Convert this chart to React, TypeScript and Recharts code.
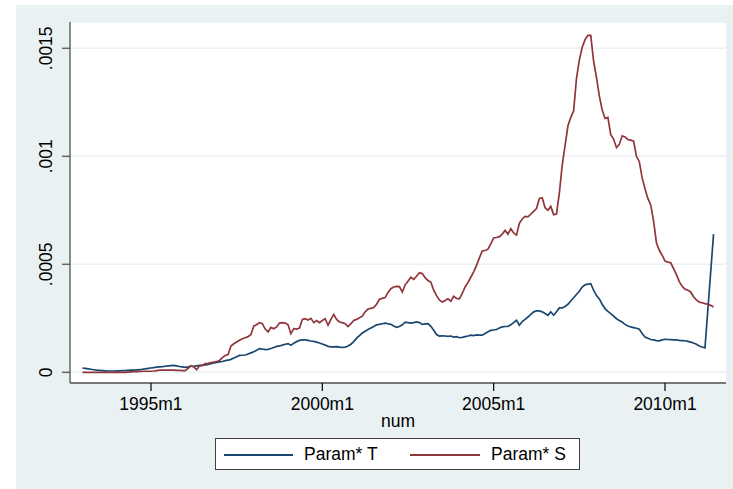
import React from 'react'
import { LineChart, Line, XAxis, YAxis, CartesianGrid } from 'recharts'

// ── data (monthly, Stata %tm: 396 = 1993m1) ─────────────────────
const START_MONTH = 396

// values below are in units of 1e-4
const paramT: (number | null)[] = [
  // 1993
  0.20, 0.18, 0.16, 0.14, 0.12, 0.10, 0.09, 0.08, 0.07, 0.06, 0.06, 0.06,
  // 1994
  0.07, 0.07, 0.08, 0.08, 0.09, 0.10, 0.10, 0.11, 0.12, 0.14, 0.16, 0.18,
  // 1995
  0.20, 0.22, 0.24, 0.25, 0.26, 0.28, 0.30, 0.31, 0.32, 0.30, 0.27, 0.25,
  // 1996
  0.23, 0.25, 0.28, 0.28, 0.30, 0.32, 0.32, 0.34, 0.37, 0.40, 0.43, 0.46,
  // 1997
  0.48, 0.50, 0.54, 0.56, 0.60, 0.66, 0.72, 0.78, 0.79, 0.80, 0.85, 0.90,
  // 1998
  0.95, 1.02, 1.10, 1.08, 1.05, 1.06, 1.10, 1.15, 1.20, 1.22, 1.26, 1.30,
  // 1999
  1.33, 1.25, 1.35, 1.42, 1.48, 1.50, 1.50, 1.48, 1.45, 1.43, 1.40, 1.36,
  // 2000
  1.31, 1.26, 1.20, 1.18, 1.18, 1.19, 1.17, 1.15, 1.16, 1.22, 1.30, 1.42,
  // 2001
  1.58, 1.70, 1.82, 1.90, 1.98, 2.05, 2.12, 2.20, 2.22, 2.25, 2.28, 2.25,
  // 2002
  2.22, 2.14, 2.08, 2.12, 2.20, 2.32, 2.30, 2.28, 2.30, 2.33, 2.30, 2.22,
  // 2003
  2.24, 2.25, 2.13, 1.95, 1.75, 1.68, 1.69, 1.68, 1.66, 1.68, 1.63, 1.65,
  // 2004
  1.60, 1.62, 1.65, 1.68, 1.72, 1.70, 1.73, 1.72, 1.72, 1.80, 1.88, 1.94,
  // 2005
  1.96, 1.98, 2.05, 2.10, 2.12, 2.13, 2.20, 2.30, 2.41, 2.18, 2.35, 2.45,
  // 2006
  2.56, 2.68, 2.80, 2.84, 2.84, 2.80, 2.72, 2.64, 2.80, 2.64, 2.80, 2.98,
  // 2007
  2.98, 3.05, 3.15, 3.30, 3.45, 3.60, 3.75, 3.95, 4.05, 4.08, 4.10, 3.80,
  // 2008
  3.55, 3.40, 3.15, 2.95, 2.82, 2.72, 2.60, 2.48, 2.40, 2.33, 2.22, 2.14,
  // 2009
  2.10, 2.07, 2.04, 1.99, 1.80, 1.63, 1.58, 1.52, 1.50, 1.47, 1.46, 1.50,
  // 2010
  1.53, 1.52, 1.51, 1.50, 1.50, 1.48, 1.47, 1.46, 1.43, 1.40, 1.36, 1.30,
  // 2011
  1.22, 1.17, 1.13, null, null, 6.40,
]

const paramS: number[] = [
  // 1993
  0.00, 0.00, 0.00, 0.00, 0.00, 0.00, 0.00, 0.00, 0.00, 0.00, 0.00, 0.00,
  // 1994
  0.00, 0.00, 0.00, 0.00, 0.01, 0.02, 0.03, 0.03, 0.04, 0.05, 0.05, 0.05,
  // 1995
  0.05, 0.06, 0.08, 0.10, 0.10, 0.10, 0.10, 0.10, 0.10, 0.09, 0.09, 0.08,
  // 1996
  0.08, 0.18, 0.30, 0.25, 0.12, 0.30, 0.32, 0.40, 0.42, 0.45, 0.47, 0.50,
  // 1997
  0.55, 0.68, 0.78, 0.82, 1.22, 1.32, 1.40, 1.48, 1.55, 1.60, 1.65, 1.75,
  // 1998
  2.15, 2.20, 2.30, 2.25, 2.00, 1.87, 2.08, 2.02, 2.10, 2.28, 2.30, 2.28,
  // 1999
  2.20, 1.79, 2.02, 2.00, 2.05, 2.45, 2.48, 2.42, 2.50, 2.30, 2.40, 2.30,
  // 2000
  2.40, 2.48, 2.18, 2.45, 2.68, 2.45, 2.33, 2.30, 2.25, 2.12, 2.25, 2.40,
  // 2001
  2.45, 2.53, 2.60, 2.80, 2.93, 2.96, 3.00, 3.15, 3.38, 3.42, 3.46, 3.70,
  // 2002
  3.87, 3.95, 3.98, 3.97, 3.72, 4.05, 4.22, 4.40, 4.30, 4.45, 4.61, 4.57,
  // 2003
  4.38, 4.25, 4.18, 3.80, 3.55, 3.35, 3.25, 3.32, 3.40, 3.29, 3.52, 3.42,
  // 2004
  3.40, 3.65, 3.95, 4.15, 4.40, 4.65, 4.95, 5.30, 5.62, 5.64, 5.70, 5.95,
  // 2005
  6.22, 6.24, 6.28, 6.40, 6.57, 6.40, 6.65, 6.45, 6.35, 6.90, 7.10, 7.22,
  // 2006
  7.20, 7.32, 7.45, 7.58, 8.05, 8.08, 7.62, 7.50, 7.68, 7.30, 7.33, 8.30,
  // 2007
  9.58, 10.50, 11.40, 11.80, 12.10, 13.60, 14.45, 15.05, 15.40, 15.60, 15.60, 14.40,
  // 2008
  13.65, 12.80, 12.15, 11.75, 11.80, 11.00, 10.80, 10.40, 10.55, 10.95, 10.90, 10.78,
  // 2009
  10.75, 10.70, 10.00, 9.75, 9.00, 8.50, 8.05, 7.75, 7.00, 6.00, 5.65, 5.42,
  // 2010
  5.15, 5.10, 5.07, 4.80, 4.52, 4.20, 3.98, 3.85, 3.80, 3.72, 3.50, 3.35,
  // 2011
  3.25, 3.22, 3.18, 3.15, 3.10, 3.02,
]

const X_TICKS = [420, 480, 540, 600]
const X_LABELS = ['1995m1', '2000m1', '2005m1', '2010m1']
const Y_TICKS = [0, 0.0005, 0.001, 0.0015]
const Y_LABELS = ['0', '.0005', '.001', '.0015']

const data = paramS.map((s, i) => ({
  t: START_MONTH + i,
  T: paramT[i] === null ? null : (paramT[i] as number) * 1e-4,
  S: s * 1e-4,
}))

// ── style ───────────────────────────────────────────────────────
const BLUE = '#1a476f'
const RED = '#90353b'
const BG = '#eaf1f3'
const FONT = '"Liberation Sans", Arial, sans-serif'

function YTick({ x, y, index }: any) {
  const cx = x - 8
  return (
    <text
      x={cx}
      y={y}
      transform={`rotate(-90 ${cx} ${y})`}
      textAnchor="middle"
      fontSize={17.5}
      fontFamily={FONT}
      fill="#000"
    >
      {Y_LABELS[index]}
    </text>
  )
}

export default function App() {
  return (
    <div style={{ position: 'absolute', left: 0, top: 0, width: 733, height: 489, background: '#fff', fontFamily: FONT }}>
      <div style={{ position: 'absolute', left: 16, top: 5, width: 717, height: 484, background: BG }} />

      <div style={{ position: 'absolute', left: 0, top: 0 }}>
        <LineChart width={733} height={489} data={data} margin={{ top: 22, right: 7, left: 20, bottom: 76 }}>
          <CartesianGrid vertical={false} fill="#fff" stroke={BG} strokeWidth={1.5} />
          <XAxis
            dataKey="t"
            type="number"
            domain={[391.64, 621.36]}
            allowDataOverflow
            ticks={X_TICKS}
            tickFormatter={(v: number) => X_LABELS[X_TICKS.indexOf(v)]}
            height={30}
            tickSize={8}
            tickMargin={7}
            stroke="#000"
            strokeWidth={1.2}
            tick={{ fontSize: 17.5, fill: '#000', fontFamily: FONT }}
          />
          <YAxis
            type="number"
            domain={[-0.0000495, 0.0016218]}
            allowDataOverflow
            ticks={Y_TICKS}
            width={50}
            tickSize={8}
            stroke="#666"
            strokeWidth={1.5}
            tick={<YTick />}
          />
          <Line
            dataKey="T"
            stroke={BLUE}
            strokeWidth={1.7}
            dot={false}
            connectNulls
            isAnimationActive={false}
          />
          <Line
            dataKey="S"
            stroke={RED}
            strokeWidth={1.7}
            dot={false}
            isAnimationActive={false}
          />
        </LineChart>
      </div>

      {/* axis title */}
      <div style={{ position: 'absolute', left: 348, width: 100, top: 410, textAlign: 'center', fontSize: 17.5, lineHeight: '22px', color: '#000' }}>
        num
      </div>

      {/* legend */}
      <div style={{
        position: 'absolute', left: 215, top: 438, width: 363, height: 30,
        background: '#fff', border: '1px solid #404040',
      }}>
        <span style={{ position: 'absolute', left: 8, top: 15, width: 69, height: 2, background: BLUE }} />
        <span style={{ position: 'absolute', left: 88, top: 4, fontSize: 17.5, lineHeight: '22px', color: '#000', whiteSpace: 'nowrap' }}>Param* T</span>
        <span style={{ position: 'absolute', left: 194, top: 15, width: 70, height: 2, background: RED }} />
        <span style={{ position: 'absolute', left: 275, top: 4, fontSize: 17.5, lineHeight: '22px', color: '#000', whiteSpace: 'nowrap' }}>Param* S</span>
      </div>
    </div>
  )
}
